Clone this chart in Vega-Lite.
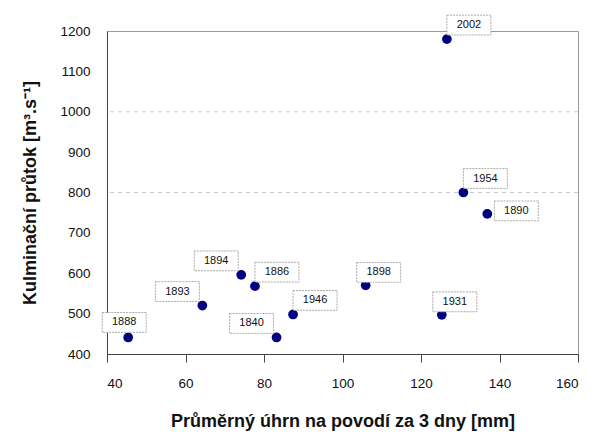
{
  "$schema": "https://vega.github.io/schema/vega-lite/v6.json",
  "width": 471,
  "height": 323,
  "autosize": {"type": "none"},
  "padding": {"left": 107, "top": 31, "right": 17, "bottom": 81},
  "background": "white",
  "config": {
    "view": {"stroke": "#9a9a9a", "strokeWidth": 1},
    "font": "Liberation Sans",
    "axis": {
      "domainColor": "#444",
      "labelColor": "#111",
      "labelFont": "Liberation Sans",
      "labelFontSize": 13.5,
      "titleFont": "Liberation Sans",
      "titleFontSize": 18,
      "titleFontWeight": "bold",
      "titleColor": "#111",
      "grid": false
    },
    "axisX": {"tickSize": 8, "tickColor": "#444", "labelPadding": 14, "titlePadding": 23, "format": "d"},
    "axisY": {"ticks": false, "tickSize": 0, "labelPadding": 17, "titlePadding": 20, "format": "d"}
  },
  "datasets": {
    "floods": [
      {"year": "1888", "mm": 45.4, "q": 441},
      {"year": "1893", "mm": 64.3, "q": 520},
      {"year": "1894", "mm": 74.2, "q": 596},
      {"year": "1886", "mm": 77.7, "q": 568},
      {"year": "1840", "mm": 83.2, "q": 441},
      {"year": "1946", "mm": 87.4, "q": 498},
      {"year": "1898", "mm": 105.9, "q": 570},
      {"year": "1931", "mm": 125.3, "q": 497},
      {"year": "1954", "mm": 130.8, "q": 800},
      {"year": "1890", "mm": 136.9, "q": 747},
      {"year": "2002", "mm": 126.6, "q": 1180}
    ],
    "grid": [{"q": 800}, {"q": 1000}]
  },
  "layer": [
    {
      "data": {"name": "grid"},
      "mark": {"type": "rule", "color": "#cccccc", "strokeDash": [4, 4], "strokeWidth": 1},
      "encoding": {
        "y": {"field": "q", "type": "quantitative", "scale": {"domain": [400, 1200], "nice": false}, "axis": {"values": [400, 500, 600, 700, 800, 900, 1000, 1100, 1200]}, "title": "Kulminační průtok [m³.s⁻¹]"}
      }
    },
    {
      "data": {"name": "floods"},
      "mark": {"type": "circle", "size": 95, "color": "#000080", "opacity": 1},
      "encoding": {
        "x": {"field": "mm", "type": "quantitative", "scale": {"domain": [40, 160], "nice": false}, "axis": {"values": [40, 60, 80, 100, 120, 140, 160]}, "title": "Průměrný úhrn na povodí za 3 dny [mm]"},
        "y": {"field": "q", "type": "quantitative", "title": "Kulminační průtok [m³.s⁻¹]"}
      }
    },
    {
      "data": {"name": "floods"},
      "transform": [{"filter": {"field": "year", "oneOf": ["1893", "1894", "1840"]}}],
      "layer": [
        {"mark": {"type": "point", "shape": "M-1,-0.45H1V0.45H-1Z", "size": 1936, "filled": true, "fill": "white", "stroke": "#aaa", "strokeWidth": 1, "strokeDash": [2, 1], "opacity": 1, "xOffset": -25, "yOffset": -14}},
        {"mark": {"type": "text", "fontSize": 11, "color": "#111", "dx": -25, "dy": -14, "align": "center", "baseline": "middle"}, "encoding": {"text": {"field": "year"}}}
      ],
      "encoding": {
        "x": {"field": "mm", "type": "quantitative", "title": "Průměrný úhrn na povodí za 3 dny [mm]"},
        "y": {"field": "q", "type": "quantitative", "title": "Kulminační průtok [m³.s⁻¹]"}
      }
    },
    {
      "data": {"name": "floods"},
      "transform": [{"filter": {"field": "year", "oneOf": ["1946", "1954", "2002", "1886"]}}],
      "layer": [
        {"mark": {"type": "point", "shape": "M-1,-0.45H1V0.45H-1Z", "size": 1936, "filled": true, "fill": "white", "stroke": "#aaa", "strokeWidth": 1, "strokeDash": [2, 1], "opacity": 1, "xOffset": 22, "yOffset": -14}},
        {"mark": {"type": "text", "fontSize": 11, "color": "#111", "dx": 22, "dy": -14, "align": "center", "baseline": "middle"}, "encoding": {"text": {"field": "year"}}}
      ],
      "encoding": {
        "x": {"field": "mm", "type": "quantitative", "title": "Průměrný úhrn na povodí za 3 dny [mm]"},
        "y": {"field": "q", "type": "quantitative", "title": "Kulminační průtok [m³.s⁻¹]"}
      }
    },
    {
      "data": {"name": "floods"},
      "transform": [{"filter": {"field": "year", "oneOf": ["1898", "1931"]}}],
      "layer": [
        {"mark": {"type": "point", "shape": "M-1,-0.45H1V0.45H-1Z", "size": 1936, "filled": true, "fill": "white", "stroke": "#aaa", "strokeWidth": 1, "strokeDash": [2, 1], "opacity": 1, "xOffset": 13, "yOffset": -13}},
        {"mark": {"type": "text", "fontSize": 11, "color": "#111", "dx": 13, "dy": -13, "align": "center", "baseline": "middle"}, "encoding": {"text": {"field": "year"}}}
      ],
      "encoding": {
        "x": {"field": "mm", "type": "quantitative", "title": "Průměrný úhrn na povodí za 3 dny [mm]"},
        "y": {"field": "q", "type": "quantitative", "title": "Kulminační průtok [m³.s⁻¹]"}
      }
    },
    {
      "data": {"name": "floods"},
      "transform": [{"filter": {"field": "year", "oneOf": ["1890"]}}],
      "layer": [
        {"mark": {"type": "point", "shape": "M-1,-0.45H1V0.45H-1Z", "size": 1936, "filled": true, "fill": "white", "stroke": "#aaa", "strokeWidth": 1, "strokeDash": [2, 1], "opacity": 1, "xOffset": 29, "yOffset": -3}},
        {"mark": {"type": "text", "fontSize": 11, "color": "#111", "dx": 29, "dy": -3, "align": "center", "baseline": "middle"}, "encoding": {"text": {"field": "year"}}}
      ],
      "encoding": {
        "x": {"field": "mm", "type": "quantitative", "title": "Průměrný úhrn na povodí za 3 dny [mm]"},
        "y": {"field": "q", "type": "quantitative", "title": "Kulminační průtok [m³.s⁻¹]"}
      }
    },
    {
      "data": {"name": "floods"},
      "transform": [{"filter": {"field": "year", "oneOf": ["1888"]}}],
      "layer": [
        {"mark": {"type": "point", "shape": "M-1,-0.45H1V0.45H-1Z", "size": 1936, "filled": true, "fill": "white", "stroke": "#aaa", "strokeWidth": 1, "strokeDash": [2, 1], "opacity": 1, "xOffset": -4, "yOffset": -15}},
        {"mark": {"type": "text", "fontSize": 11, "color": "#111", "dx": -4, "dy": -15, "align": "center", "baseline": "middle"}, "encoding": {"text": {"field": "year"}}}
      ],
      "encoding": {
        "x": {"field": "mm", "type": "quantitative", "title": "Průměrný úhrn na povodí za 3 dny [mm]"},
        "y": {"field": "q", "type": "quantitative", "title": "Kulminační průtok [m³.s⁻¹]"}
      }
    }
  ]
}
